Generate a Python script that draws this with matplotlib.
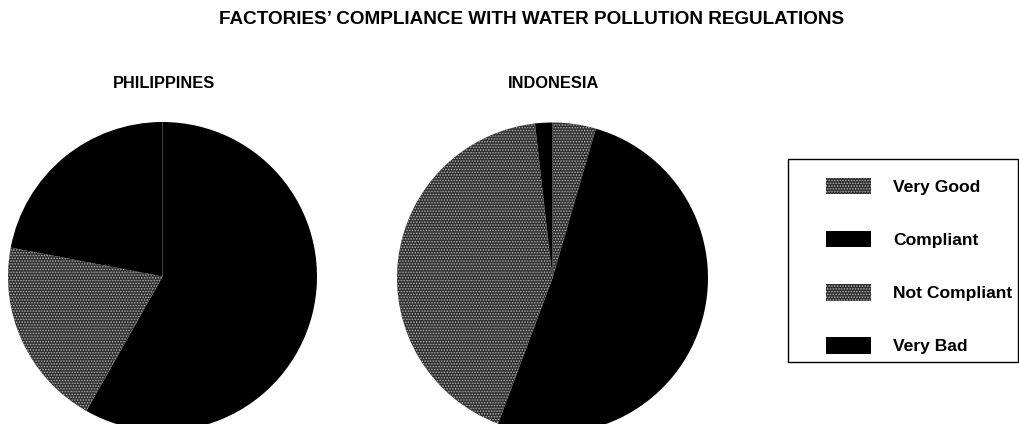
import matplotlib
matplotlib.use("Agg")
import matplotlib.pyplot as plt
from matplotlib.patches import Rectangle

# Share of factories in each compliance rating (%)
categories = ["Very Good", "Compliant", "Not Compliant", "Very Bad"]
philippines = [0.0, 58.2, 19.8, 22.0]
indonesia = [4.5, 51.2, 42.5, 1.8]
panel_titles = ["PHILIPPINES", "INDONESIA"]
chart_title = "FACTORIES\u2019 COMPLIANCE WITH WATER POLLUTION REGULATIONS"

plt.rcParams["font.family"] = ["Liberation Sans", "DejaVu Sans"]
plt.rcParams["hatch.color"] = "#b4b4b4"
plt.rcParams["hatch.linewidth"] = 0.7

W, H = 1020, 424
fig = plt.figure(figsize=(W / 100, H / 100), dpi=100)
ax = fig.add_axes([0, 0, 1, 1])

fills = ["#303030", "#000000", "#303030", "#000000"]
hatches = ["......", None, "......", None]

pies = [
    (philippines, (162.5, H - 276.5), 154.5),
    (indonesia, (552.5, H - 278.0), 155.5),
]
wedge_sets = []
for values, center, radius in pies:
    wedges, _ = ax.pie(values, colors=fills, startangle=90, counterclock=False,
                       center=center, radius=radius,
                       wedgeprops=dict(linewidth=0))
    for w, h in zip(wedges, hatches):
        if h:
            w.set_hatch(h)
    wedge_sets.append(wedges)

ax.set_xlim(0, W)
ax.set_ylim(0, H)
ax.set_aspect("equal")
ax.axis("off")

fig.text(532 / W, 1 - 20 / H, chart_title, ha="center", va="center",
         fontsize=13.6, fontweight="bold")
for name, (_, center, _) in zip(panel_titles, pies):
    fig.text(center[0] / W + 0.001, 1 - 84 / H, name, ha="center", va="center",
             fontsize=11.8, fontweight="bold")

# Legend box
fig.patches.append(Rectangle((788 / W, 1 - 362 / H), 230 / W, 203 / H,
                             transform=fig.transFigure, fill=False,
                             edgecolor="black", linewidth=1.0))

fig.legend(wedge_sets[1], categories, loc="upper left",
           bbox_to_anchor=(826 / W, 1 - 178 / H), frameon=False,
           borderpad=0, borderaxespad=0, handlelength=2.57,
           handleheight=1.05, handletextpad=1.25, labelspacing=2.06,
           prop=dict(size=12.6, weight="bold"))

fig.savefig("out.png", dpi=100, facecolor="white")
